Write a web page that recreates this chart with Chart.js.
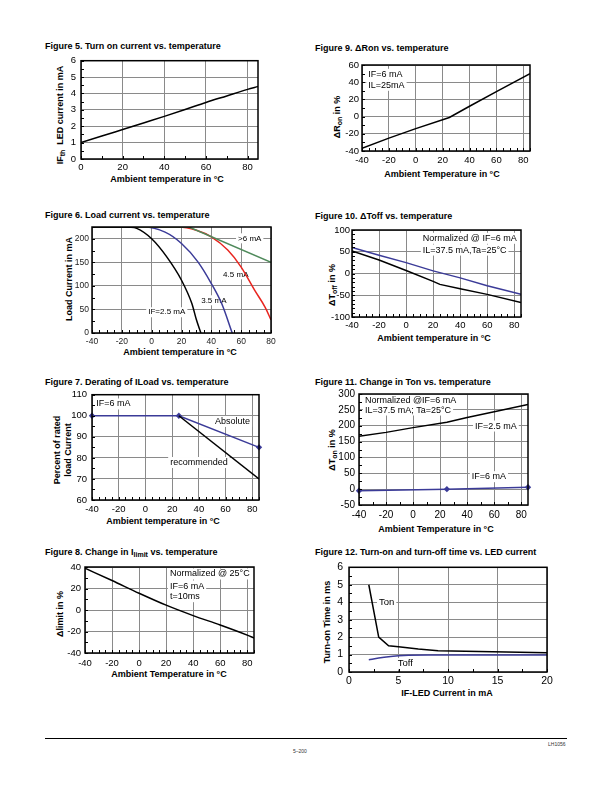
<!DOCTYPE html>
<html>
<head>
<meta charset="utf-8">
<script src="https://cdn.jsdelivr.net/npm/chart.js@4.4.1/dist/chart.umd.min.js"></script>
<style>
  html, body { margin:0; padding:0; background:#fff; }
  #page { position:relative; width:612px; height:792px; overflow:hidden; font-family:"Liberation Sans", Arial, sans-serif; color:#000; }
  #page canvas { position:absolute; }
  .fig { position:absolute; font-weight:bold; font-size:9px; line-height:10px; white-space:nowrap; }
  .ax { position:absolute; font-weight:bold; font-size:9px; line-height:10px; white-space:nowrap; transform:translate(-50%,-50%); }
  .ax.v { transform:translate(-50%,-50%) rotate(-90deg); }
  sub { font-size:7px; vertical-align:-2px; line-height:0; }
  .foot { position:absolute; font-size:5px; color:#333; white-space:nowrap; }
</style>
</head>
<body>
<div id="page">
  <div class="fig" style="left:45px;top:41px">Figure 5. Turn on current vs. temperature</div>
  <div class="fig" style="left:315px;top:43px">Figure 9. ΔRon vs. temperature</div>
  <div class="fig" style="left:45px;top:210px">Figure 6. Load current vs. temperature</div>
  <div class="fig" style="left:315px;top:211px">Figure 10. ΔToff vs. temperature</div>
  <div class="fig" style="left:45px;top:377px">Figure 7. Derating of ILoad vs. temperature</div>
  <div class="fig" style="left:315px;top:377px">Figure 11. Change in Ton vs. temperature</div>
  <div class="fig" style="left:45px;top:547px">Figure 8. Change in I<sub>limit</sub> vs. temperature</div>
  <div class="fig" style="left:315px;top:547px">Figure 12. Turn-on and turn-off time vs. LED current</div>

  <div class="ax" style="left:167px;top:179px">Ambient temperature in °C</div>
  <div class="ax v" style="left:60px;top:115px">IF<sub>th</sub>&nbsp; LED current in mA</div>
  <div class="ax" style="left:442px;top:174px">Ambient Temperature in °C</div>
  <div class="ax v" style="left:337px;top:117px">ΔR<sub>on</sub> in %</div>
  <div class="ax" style="left:180px;top:352px">Ambient temperature in °C</div>
  <div class="ax v" style="left:69px;top:279px">Load Current in mA</div>
  <div class="ax" style="left:434px;top:338px">Ambient temperature in °C</div>
  <div class="ax v" style="left:332px;top:285px">ΔT<sub>off</sub> in %</div>
  <div class="ax" style="left:163px;top:521px">Ambient temperature in °C</div>
  <div class="ax v" style="left:57px;top:450px">Percent of rated</div>
  <div class="ax v" style="left:68px;top:450px">load Current</div>
  <div class="ax" style="left:436px;top:529px">Ambient Temperature in °C</div>
  <div class="ax v" style="left:332px;top:450px">ΔT<sub>on</sub> in %</div>
  <div class="ax" style="left:169px;top:674px">Ambient Temperature in °C</div>
  <div class="ax v" style="left:60px;top:614px">Δlimit in %</div>
  <div class="ax" style="left:447px;top:693px">IF-LED Current in mA</div>
  <div class="ax v" style="left:327px;top:622px">Turn-on Time in ms</div>

  <div style="position:absolute;left:45px;top:738px;width:522px;height:1px;background:#000"></div>
  <div class="foot" style="left:548px;top:741px">LH1056</div>
  <div class="foot" style="left:293px;top:748px">5–200</div>
</div>
<script>
// values
const TEMP_TICKS = [-40, -20, 0, 20, 40, 60, 80];

// Fig 5 - IFth vs temperature
const F5_T      = [0, 10, 20, 30, 40, 50, 60, 70, 80, 85];
const F5_IFTH   = [1.0, 1.4, 1.8, 2.2, 2.6, 3.02, 3.45, 3.85, 4.25, 4.42];
const F5_XTICKS = [0, 20, 40, 60, 80];
const F5_YTICKS = [0, 1, 2, 3, 4, 5, 6];

// Fig 9 - delta Ron
const F9_T      = [-40, -20, 0, 25, 40, 60, 85];
const F9_DRON   = [-37, -25, -14, -1, 12, 29, 50];
const F9_YTICKS = [-40, -20, 0, 20, 40, 60];

// Fig 6 - load current, one curve per IF
const F6_T25 = [-40, -20, -15, -10, 0, 10, 20, 27, 30, 33];
const F6_I25 = [225, 225, 224.5, 222, 200, 162, 112, 62, 28, 0];
const F6_T35 = [-40, -5, 9, 20, 31, 40, 47, 54];
const F6_I35 = [225, 225, 214, 190, 151, 105, 62, 0];
const F6_T45 = [-40, 18, 30, 40, 51, 60, 69, 76, 80];
const F6_I45 = [225, 225, 218, 204, 176, 140, 91, 55, 28];
const F6_T6  = [-40, 25, 80];
const F6_I6  = [225, 225, 150];
const F6_YTICKS = [0, 50, 100, 150, 200];

// Fig 10 - delta Toff
const F10_T     = [-40, -20, 0, 20, 25, 40, 60, 85];
const F10_BLUE  = [60, 42, 25, 6, 2, -10, -28, -48];
const F10_BLACK = [52, 31, 7, -18, -25, -35, -48, -67];
const F10_YTICKS = [-100, -50, 0, 50, 100];

// Fig 7 - derating
const F7_ABS_T = [-40, 25, 85];
const F7_ABS   = [100, 100, 85];
const F7_REC_T = [25, 85];
const F7_REC   = [100, 70];
const F7_YTICKS = [60, 70, 80, 90, 100, 110];

// Fig 11 - delta Ton
const F11_T25   = [-40, -20, 0, 25, 40, 60, 85];
const F11_TON25 = [167, 179, 194, 211, 226, 244, 267];
const F11_T6    = [-40, 25, 85];
const F11_TON6  = [-5, 0, 6];
const F11_YTICKS = [-50, 0, 50, 100, 150, 200, 250, 300];

// Fig 8 - delta Ilimit
const F8_T    = [-40, -20, 0, 20, 40, 60, 80, 85];
const F8_DLIM = [38.8, 27.4, 15.6, 4.5, -5.2, -14, -23.4, -26];
const F8_YTICKS = [-40, -20, 0, 20, 40];

// Fig 12 - Ton / Toff vs LED current
const F12_IF_ON  = [2, 3, 4, 5, 7, 9, 20];
const F12_TON    = [5.0, 2.0, 1.5, 1.45, 1.32, 1.22, 1.1];
const F12_IF_OFF = [2, 3, 4, 5, 6, 8, 20];
const F12_TOFF   = [0.7, 0.8, 0.88, 0.93, 0.96, 0.97, 0.97];
const F12_XTICKS = [0, 5, 10, 15, 20];
const F12_YTICKS = [0, 1, 2, 3, 4, 5, 6];

const FONT = '"Liberation Sans", Arial, sans-serif';
const GRID = '#8a8a8a';
const BLUE = '#3b3b98', RED = '#e8251f', GREEN = '#4f8a5b';
const PL = 40, PT = 10, PR = 16, PB = 22;

Chart.defaults.font.family = FONT;
Chart.defaults.color = '#000';

// plot frame + small inward ticks
const framePlugin = {
  id: 'frame',
  afterDatasetsDraw(chart, args, opts) {
    const {ctx, chartArea: a, scales: {x, y}} = chart;
    ctx.save();
    ctx.strokeStyle = '#000';
    ctx.lineWidth = 1;
    ctx.beginPath();
    if (opts.xStep) for (let v = x.min; v <= x.max + 1e-9; v += opts.xStep) {
      const p = Math.round(x.getPixelForValue(v)) + 0.5;
      ctx.moveTo(p, a.bottom); ctx.lineTo(p, a.bottom - 3);
    }
    if (opts.yStep) for (let v = y.min; v <= y.max + 1e-9; v += opts.yStep) {
      const p = Math.round(y.getPixelForValue(v)) + 0.5;
      ctx.moveTo(a.left, p); ctx.lineTo(a.left + 3, p);
    }
    ctx.stroke();
    ctx.lineWidth = 1.5;
    ctx.strokeRect(a.left, a.top, a.right - a.left, a.bottom - a.top);
    ctx.restore();
  }
};

// in-plot labels on a white patch (covers grid, not the curves)
const notesPlugin = {
  id: 'notes',
  beforeDatasetsDraw(chart, args, opts) {
    const {ctx, scales: {x, y}} = chart;
    const size = opts.size || 9;
    (opts.items || []).forEach(n => {
      const px = x.getPixelForValue(n.x), py = y.getPixelForValue(n.y);
      ctx.save();
      ctx.font = `${size}px ${FONT}`;
      const w = ctx.measureText(n.t).width;
      ctx.fillStyle = '#fff';
      ctx.fillRect(px - 2, py - size / 2 - 1, w + 4, size + 2);
      ctx.fillStyle = opts.color || '#000';
      ctx.textBaseline = 'middle';
      ctx.fillText(n.t, px, py);
      ctx.restore();
    });
  }
};

function series(xs, ys, color, extra) {
  return Object.assign({
    data: xs.map((v, i) => ({x: v, y: ys[i]})),
    borderColor: color, backgroundColor: color,
    borderWidth: 1.5, pointRadius: 0, tension: 0, fill: false,
  }, extra || {});
}

function axis(range, ticks, size, pad, color, horiz) {
  return {
    type: 'linear', min: range[0], max: range[1],
    afterBuildTicks: s => { s.ticks = ticks.map(v => ({value: v})); },
    afterFit: s => { if (horiz) s.height = PB; else s.width = PL; },
    grid: { color: GRID, lineWidth: 1, drawTicks: false },
    border: { display: false },
    ticks: { font: {size}, color, padding: pad, autoSkip: false, maxRotation: 0 },
  };
}

function plot(box, s) {
  const w = box.r - box.l + PL + PR, h = box.b - box.t + PT + PB;
  const cv = document.createElement('canvas');
  cv.width = w; cv.height = h;
  cv.style.cssText = `left:${box.l - PL}px;top:${box.t - PT}px;width:${w}px;height:${h}px`;
  document.getElementById('page').appendChild(cv);
  const tc = s.tickColor || '#000';
  return new Chart(cv, {
    type: 'line',
    data: { datasets: s.datasets },
    plugins: [framePlugin, notesPlugin],
    options: {
      responsive: false, animation: false, devicePixelRatio: 1,
      layout: { padding: { top: PT, right: PR, left: 0, bottom: 0 } },
      plugins: {
        legend: { display: false }, tooltip: { enabled: false },
        frame: { xStep: s.xMinor, yStep: s.yMinor },
        notes: { items: s.notes || [], size: s.noteSize },
      },
      scales: {
        x: axis(s.x, s.xTicks, s.tickSize, s.xPad, tc, true),
        y: axis(s.y, s.yTicks, s.tickSize, s.yPad, tc, false),
      },
    },
  });
}

const smooth = { cubicInterpolationMode: 'monotone' };
const diamond = { pointRadius: 3.2, pointStyle: 'rectRot', pointBorderWidth: 0, clip: false };

// Figure 5
plot({l: 81, t: 60, r: 258, b: 159}, {
  x: [0, 85], xTicks: F5_XTICKS, y: [0, 6], yTicks: F5_YTICKS,
  tickSize: 9.5, xPad: 3, yPad: 5, xMinor: 10, yMinor: 0.5,
  datasets: [series(F5_T, F5_IFTH, '#000', smooth)],
});

// Figure 9
plot({l: 362, t: 65, r: 530, b: 151}, {
  x: [-40, 85], xTicks: TEMP_TICKS, y: [-40, 60], yTicks: F9_YTICKS,
  tickSize: 9.5, xPad: 4, yPad: 3, xMinor: 5, yMinor: 10, noteSize: 9,
  notes: [{x: -35.3, y: 49.2, t: 'IF=6 mA'}, {x: -35.3, y: 36.4, t: 'IL=25mA'}],
  datasets: [series(F9_T, F9_DRON, '#000')],
});

// Figure 6
plot({l: 92, t: 227, r: 271, b: 333}, {
  x: [-40, 80], xTicks: TEMP_TICKS, y: [0, 225], yTicks: F6_YTICKS,
  tickSize: 8.5, tickColor: '#222', xPad: 4, yPad: 3, xMinor: 5, yMinor: 25, noteSize: 8,
  notes: [
    {x: 57.9, y: 201, t: '>6 mA'}, {x: 47.9, y: 124.6, t: '4.5 mA'},
    {x: 33.2, y: 69.4, t: '3.5 mA'}, {x: -2.3, y: 44, t: 'IF=2.5 mA'},
  ],
  datasets: [
    series(F6_T25, F6_I25, '#000', smooth),
    series(F6_T6, F6_I6, GREEN),
    series(F6_T45, F6_I45, RED, smooth),
    series(F6_T35, F6_I35, BLUE, smooth),
  ],
});

// Figure 10
plot({l: 352, t: 230, r: 521, b: 317}, {
  x: [-40, 85], xTicks: TEMP_TICKS, y: [-100, 100], yTicks: F10_YTICKS,
  tickSize: 9.5, xPad: 2.5, yPad: 2, xMinor: 5, yMinor: 10, noteSize: 9,
  notes: [{x: 12.4, y: 80.9, t: 'Normalized @ IF=6 mA'}, {x: 12.4, y: 53.9, t: 'IL=37.5 mA,Ta=25°C'}],
  datasets: [series(F10_T, F10_BLACK, '#000'), series(F10_T, F10_BLUE, BLUE)],
});

// Figure 7
plot({l: 92, t: 394, r: 259, b: 500}, {
  x: [-40, 85], xTicks: TEMP_TICKS, y: [60, 110], yTicks: F7_YTICKS,
  tickSize: 9.5, xPad: 4, yPad: 5, xMinor: 5, yMinor: 5, noteSize: 9,
  notes: [
    {x: -36.8, y: 105.6, t: 'IF=6 mA'}, {x: 52.1, y: 97.3, t: 'Absolute'},
    {x: 18.5, y: 77.8, t: 'recommended'},
  ],
  datasets: [series(F7_REC_T, F7_REC, '#000'), series(F7_ABS_T, F7_ABS, BLUE, diamond)],
});

// Figure 11
plot({l: 359, t: 394, r: 528, b: 505}, {
  x: [-40, 85], xTicks: TEMP_TICKS, y: [-50, 300], yTicks: F11_YTICKS,
  tickSize: 10, xPad: 4, yPad: 4, xMinor: 10, yMinor: 25, noteSize: 9,
  notes: [
    {x: -35.6, y: 281, t: 'Normalized @IF=6 mA'}, {x: -35.6, y: 249.5, t: 'IL=37.5 mA; Ta=25°C'},
    {x: 45.8, y: 199, t: 'IF=2.5 mA'}, {x: 43.4, y: 39.3, t: 'IF=6 mA'},
  ],
  datasets: [series(F11_T25, F11_TON25, '#000'), series(F11_T6, F11_TON6, BLUE, diamond)],
});

// Figure 8
plot({l: 85, t: 567, r: 254, b: 653}, {
  x: [-40, 85], xTicks: TEMP_TICKS, y: [-40, 40], yTicks: F8_YTICKS,
  tickSize: 9.5, xPad: 4.5, yPad: 4, xMinor: 5, yMinor: 10, noteSize: 9,
  notes: [
    {x: 22.8, y: 33.5, t: 'Normalized @ 25°C'}, {x: 22.8, y: 22.3, t: 'IF=6 mA'},
    {x: 22.8, y: 12.4, t: 't=10ms'},
  ],
  datasets: [series(F8_T, F8_DLIM, '#000', smooth)],
});

// Figure 12
plot({l: 349, t: 565, r: 547, b: 672}, {
  x: [0, 20], xTicks: F12_XTICKS, y: [0, 6], yTicks: F12_YTICKS,
  tickSize: 10.5, xPad: 3, yPad: 6, xMinor: 2.5, yMinor: 0.5, noteSize: 9.5,
  notes: [{x: 3.03, y: 3.98, t: 'Ton'}, {x: 4.93, y: 0.47, t: 'Toff'}],
  datasets: [series(F12_IF_ON, F12_TON, '#000'), series(F12_IF_OFF, F12_TOFF, BLUE, smooth)],
});
</script>
</body>
</html>
